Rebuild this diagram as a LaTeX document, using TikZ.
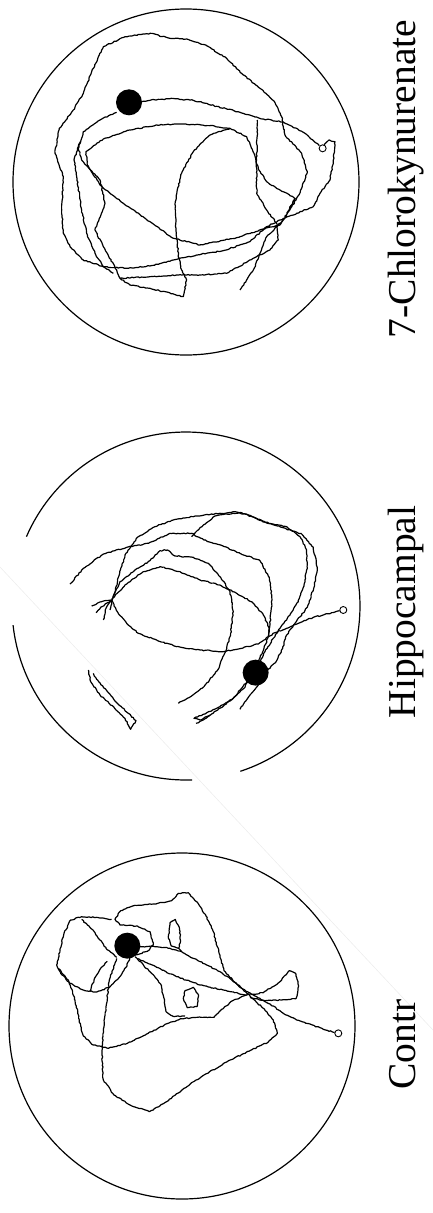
\documentclass[tikz,border=0pt]{standalone}
\usepackage{fontspec}
\setmainfont{Liberation Serif}
\usetikzlibrary{decorations.pathmorphing}

\begin{document}
\begin{tikzpicture}[x=1pt,y=-1pt]
\tikzset{arena/.style={draw,line width=1.2pt},
  track/.style={line width=1.2pt,line join=round,decorate,decoration={random steps,segment length=2pt,amplitude=0.55pt}},
  platform/.style={circle,fill=black,inner sep=0pt,minimum size=26pt},
  release/.style={circle,draw,line width=0.9pt,inner sep=0pt,minimum size=7pt},
  lab/.style={rotate=90,anchor=base,font=\fontsize{39.5}{40}\selectfont}}
\pgfmathsetseed{7}
\useasboundingbox (0,0) rectangle (433,1213);

% arenas
\coordinate (chl) at (186,182);
\coordinate (hip) at (186,606);
\coordinate (con) at (182,1026);
\draw[arena] (chl) circle[radius=173];
\draw[arena] plot[domain=-71.8:156.5,samples=120] ({186+174*cos(\x)},{606-174*sin(\x)});
\draw[arena] plot[domain=186.3:272,samples=50] ({186+174*cos(\x)},{606-174*sin(\x)});
\draw[arena] (con) circle[radius=173];

% 7-chlorokynurenate swim path
\begin{scope}[shift={(50,25)},x=0.3333pt,y=-0.3333pt]
\node[platform] (plat1) at (237,232) {};
\node[release] (rel1) at (818,370) {};
\draw[track] plot coordinates {(275,230) (300,226) (360,221) (430,226) (500,244) (570,262) (640,282) (700,291) (760,322) (808,362)};
\draw[track] plot coordinates {(822,359) (838,345) (855,350) (850,405) (840,465) (810,505) (790,545) (740,565) (690,585) (650,605) (600,650) (520,677) (440,690) (370,705) (300,723) (230,730) (160,725) (100,705) (60,665) (40,625) (35,555) (40,455) (15,385) (28,310) (70,255) (100,205) (125,140) (160,65) (225,35) (300,25) (360,40) (410,42) (470,62) (530,100) (575,145) (630,190) (672,228) (695,275) (705,330) (755,385) (772,440) (755,490) (738,525) (690,600) (640,612) (560,638) (450,660) (370,640) (300,590) (220,535) (150,480) (112,420) (108,380) (160,342) (240,315) (320,300) (400,297) (480,302) (540,310) (590,335) (612,385) (625,430) (650,470) (690,495) (735,520) (700,585) (650,635) (630,685) (610,735) (570,795)};
\draw[track] plot coordinates {(622,285) (620,405) (620,505) (650,555) (680,595) (685,645) (660,675) (620,695) (530,745) (450,750) (380,750) (300,755) (210,760) (240,780) (300,790) (400,815) (410,765) (395,735) (385,690) (378,610) (376,530) (392,450) (430,380) (480,330) (540,310)};
\draw[track] plot coordinates {(210,760) (200,735) (160,665) (135,615) (165,535) (150,465) (95,405) (85,370) (100,320) (150,285) (200,262)};
\draw[track] plot coordinates {(190,745) (160,725) (135,685) (110,625) (95,555) (80,455) (72,405) (90,350)};
\end{scope}

% hippocampal swim path
\begin{scope}[shift={(60,500)},x=0.3333pt,y=-0.3333pt]
\node[platform] (plat2) at (587,518) {};
\node[release] (rel2) at (850,330) {};
\draw[track] plot coordinates {(839,332) (815,338) (790,345) (760,352) (720,368) (680,385) (645,398) (625,410) (595,432) (540,446) (490,455) (420,450) (350,440) (290,420) (235,400) (200,370) (172,335) (155,300) (125,305) (95,318)};
\draw[track] plot coordinates {(155,300) (138,325) (130,360)};
\draw[track] plot coordinates {(155,300) (122,322) (108,338)};
\draw[track] plot coordinates {(155,298) (195,255) (250,215) (300,200) (360,215) (420,240) (480,255) (530,280) (575,305) (610,345) (628,385) (625,410) (612,445) (595,485) (575,525) (552,565) (520,595) (475,622) (435,642) (402,655) (420,660) (450,645)};
\draw[track] plot coordinates {(160,290) (180,245) (225,210) (270,182) (300,152) (322,150) (345,168) (400,172) (445,190) (482,232) (510,275) (520,335) (512,400) (497,455) (472,512) (432,560) (392,590) (355,610)};
\draw[track] plot coordinates {(30,252) (70,205) (130,162) (200,142) (265,130) (330,100) (395,100) (432,120) (482,135) (540,160) (600,182) (628,232) (636,300) (630,370) (625,410)};
\draw[track] plot coordinates {(150,330) (168,260) (195,165) (232,112) (285,80) (340,60) (400,50) (455,42) (495,40) (525,35) (565,45) (622,70) (680,80) (720,110) (740,150) (742,205) (730,262) (715,305) (690,345) (660,385) (640,415) (615,455) (595,495) (572,530) (545,565) (512,602) (470,632) (425,662) (408,670)};
\draw[track] plot coordinates {(395,110) (430,75) (465,48) (500,42) (545,38) (605,62) (665,82) (725,102) (760,142) (772,205) (762,262) (742,322) (705,370) (680,405) (668,445) (650,482) (622,512) (595,555) (565,592) (540,628)};
\draw[track] plot coordinates {(85,510) (92,545) (120,585) (162,622) (195,655) (212,688) (228,662) (205,640) (172,610) (140,572) (110,538) (100,520)};
\end{scope}

% control swim path
\begin{scope}[shift={(50,880)},x=0.3333pt,y=-0.3333pt]
\node[platform] (plat3) at (232,197) {};
\node[release] (rel3) at (865,460) {};
\draw[track] plot coordinates {(854,457) (820,448) (780,432) (740,420) (700,400) (660,372) (620,350) (580,328) (545,300) (510,275) (470,255) (430,235) (395,215) (360,205) (320,200) (270,200)};
\draw[track] plot coordinates {(200,235) (178,300) (168,380) (160,450) (156,520) (160,600) (192,645) (240,675) (298,695) (350,665) (402,625) (462,585) (532,545) (600,512) (655,486) (682,460) (670,420) (640,385) (600,348) (560,312) (522,272) (508,222) (490,155) (468,108) (440,65) (415,38) (385,40) (365,62) (310,72) (255,76) (212,92) (195,118) (210,135) (262,138) (300,155) (310,195) (292,214) (255,225)};
\draw[track] plot coordinates {(185,118) (140,112) (95,110) (62,120) (42,160) (30,210) (20,255) (32,280) (60,310) (100,330) (140,336) (178,322) (208,292) (228,262) (240,232)};
\draw[track] plot coordinates {(25,265) (55,300) (75,360) (88,420) (100,468) (130,495) (175,505) (232,490) (290,462) (342,436) (392,416) (442,412) (492,412) (515,388) (548,362) (590,345) (640,338) (690,305) (718,272) (738,282) (746,318) (738,356) (695,360) (645,362) (600,352)};
\draw[track] plot coordinates {(120,335) (132,300) (150,268) (172,244)};
\draw[track] plot coordinates {(95,118) (135,158) (168,205) (200,232)};
\draw[track] plot coordinates {(255,230) (300,275) (332,312) (342,355) (348,395) (372,410) (405,408)};
\draw[track] plot coordinates {(262,236) (320,262) (380,290) (450,315) (520,330) (590,345)};
\draw[track] plot coordinates {(360,128) (376,118) (388,142) (392,182) (386,205) (364,198) (355,170) (358,145) (360,128)};
\draw[track] (386,205) -- (395,215);
\draw[track] plot coordinates {(405,332) (430,322) (446,346) (441,380) (412,383) (400,356) (405,332)};
\end{scope}

% scan streak
\coordinate (streakA) at (0,567);
\coordinate (streakB) at (433,1030);
\draw[black!7,line width=0.6pt] (streakA) -- (streakB);

% labels
\node[lab] (labchl) at (415,179) {7-Chlorokynurenate};
\node[lab] (labhip) at (415,612) {Hippocampal};
\node[lab,anchor=base west] (labcon) at (415,1093) {Contr};
\end{tikzpicture}
\end{document}
